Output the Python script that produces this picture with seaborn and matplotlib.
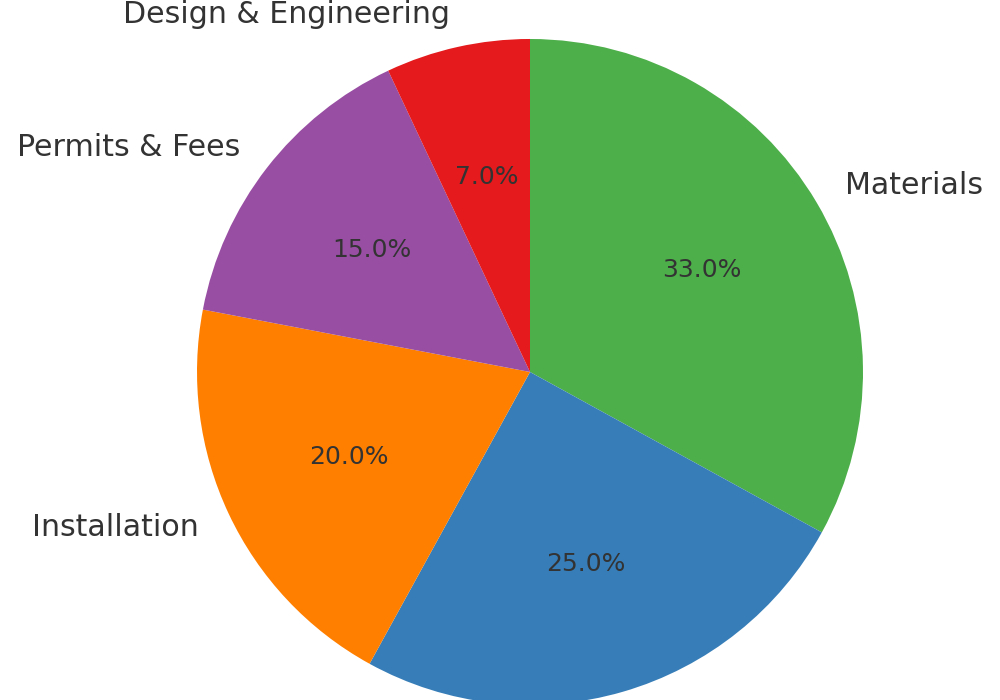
import matplotlib
matplotlib.use("Agg")
import matplotlib.pyplot as plt
import seaborn as sns

sns.set_theme(style="white")
plt.rcParams['font.family'] = ['DejaVu Sans']

categories = ["Materials", "Labor", "Installation", "Permits & Fees", "Design & Engineering"]
values = [33, 25, 20, 15, 7]
colors = ["#4daf4a", "#377eb8", "#ff7f00", "#984ea3", "#e41a1c"]

fig = plt.figure(figsize=(10, 7), dpi=100)
ax = fig.add_axes([0.197, -0.0071, 0.666, 0.9514])
wedges, texts, autotexts = ax.pie(
    values, labels=categories, colors=colors, autopct="%1.1f%%",
    startangle=90, counterclock=False, labeldistance=1.1, pctdistance=0.6,
    wedgeprops={"linewidth": 0, "edgecolor": "none"},
    textprops={"color": "#333333"})
for t in texts:
    t.set_fontsize(21.6)
for t in autotexts:
    t.set_fontsize(18)
ax.set_xlim(-1, 1)
ax.set_ylim(-1, 1)
ax.set_aspect("equal")
ax.axis("off")
fig.savefig("out.png", dpi=100)
